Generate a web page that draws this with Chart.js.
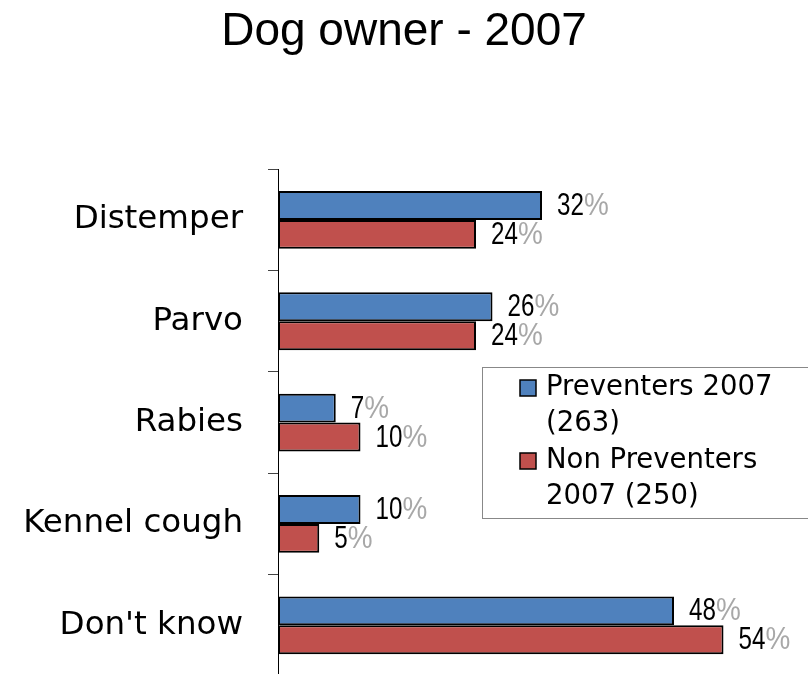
<!DOCTYPE html>
<html>
<head>
<meta charset="utf-8">
<script src="https://cdn.jsdelivr.net/npm/chart.js@4"></script>
<style>
html,body{margin:0;padding:0;background:#fff;overflow:hidden;}
#wrap{width:808px;height:680px;position:relative;}
</style>
</head>
<body>
<div id="wrap"><canvas id="c"></canvas></div>
<script>
const titleText = "Dog owner - 2007";
const categories = ["Distemper", "Parvo", "Rabies", "Kennel cough", "Don't know"];
const seriesNames = ["Preventers 2007 (263)", "Non Preventers 2007 (250)"];
const legendLines = [["Preventers 2007", "(263)"], ["Non Preventers", "2007 (250)"]];
const preventers = [32, 26, 7, 10, 48];
const nonPreventers = [24, 24, 10, 5, 54];
const colors = ["#4F81BD", "#C0504D"];

const labelPlugin = {
  id: 'pctLabels',
  afterDatasetsDraw(chart) {
    const ctx = chart.ctx;
    ctx.save();
    ctx.textBaseline = 'middle';
    ctx.textAlign = 'left';
    chart.data.datasets.forEach((ds, di) => {
      const meta = chart.getDatasetMeta(di);
      meta.data.forEach((el, i) => {
        const num = String(ds.data[i]);
        const x = el.x + 15, y = el.y + 1;
        ctx.font = '31px "Liberation Sans"';
        const w = ctx.measureText(num).width * 0.78;
        ctx.save();
        ctx.translate(x, y);
        ctx.scale(0.78, 1);
        ctx.fillStyle = '#000';
        ctx.fillText(num, 0, 0);
        ctx.restore();
        ctx.save();
        ctx.translate(x + w, y);
        ctx.scale(0.9, 1);
        ctx.fillStyle = '#a8a8a8';
        ctx.fillText('%', 0, 0);
        ctx.restore();
      });
    });
    ctx.restore();
  }
};

const legendPlugin = {
  id: 'boxLegend',
  afterDraw(chart) {
    const ctx = chart.ctx;
    ctx.save();
    ctx.fillStyle = '#fff';
    ctx.fillRect(482, 367, 330, 151);
    ctx.strokeStyle = '#888';
    ctx.lineWidth = 1;
    ctx.strokeRect(482.5, 367.5, 330, 151);
    ctx.font = '27.5px "DejaVu Sans"';
    ctx.textBaseline = 'middle';
    ctx.textAlign = 'left';
    legendLines.forEach((lines, k) => {
      const y0 = 388 + k * 73;
      ctx.fillStyle = colors[k];
      ctx.fillRect(520, y0 - 8, 16, 16);
      ctx.strokeStyle = '#000';
      ctx.lineWidth = 1.5;
      ctx.strokeRect(520, y0 - 8, 16, 16);
      ctx.fillStyle = '#000';
      lines.forEach((t, j) => ctx.fillText(t, 546, y0 + j * 36));
    });
    ctx.restore();
  }
};

new Chart(document.getElementById('c'), {
  type: 'bar',
  data: {
    labels: categories,
    datasets: [
      { label: seriesNames[0], data: preventers, backgroundColor: colors[0], borderColor: '#000', borderWidth: 2, borderSkipped: false },
      { label: seriesNames[1], data: nonPreventers, backgroundColor: colors[1], borderColor: '#000', borderWidth: 2, borderSkipped: false }
    ]
  },
  options: {
    indexAxis: 'y',
    responsive: true,
    maintainAspectRatio: false,
    animation: false,
    devicePixelRatio: 1,
    categoryPercentage: 0.57,
    barPercentage: 1.0,
    layout: { padding: { left: 0, right: 0, top: 0, bottom: 4 } },
    plugins: {
      legend: { display: false },
      tooltip: { enabled: false },
      title: {
        display: true,
        text: titleText,
        color: '#000',
        font: { family: '"Liberation Sans"', size: 46, weight: 'normal' },
        padding: { top: 5, bottom: 109 }
      }
    },
    scales: {
      x: { display: false, min: 0, max: 64.24 },
      y: {
        afterFit(s) { s.width = 278; s.paddingTop = 0; s.paddingBottom = 0; },
        border: { display: true, color: '#000', width: 1 },
        grid: { drawOnChartArea: false, drawTicks: true, tickLength: 10, color: '#444', offset: true },
        ticks: { color: '#000', padding: 25, font: { family: '"DejaVu Sans"', size: 32.5 } }
      }
    }
  },
  plugins: [labelPlugin, legendPlugin]
});
</script>
</body>
</html>
